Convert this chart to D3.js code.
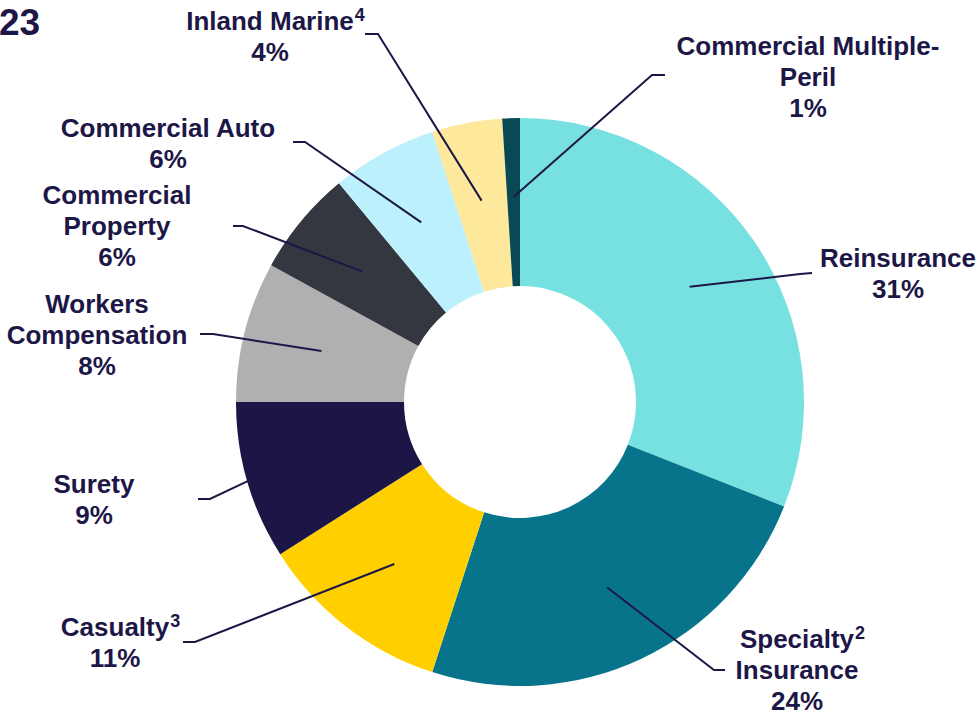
<!DOCTYPE html>
<html>
<head>
<meta charset="utf-8">
<script src="https://cdn.jsdelivr.net/npm/d3@7"></script>
<style>
  body { margin: 0; background: #fff; }
  svg { display: block; font-family: "Liberation Sans", Arial, sans-serif; font-weight: bold; }
</style>
</head>
<body>
<div id="chart"></div>
<script>
// clockwise from 12 o'clock
const categories = ['Reinsurance', 'Specialty Insurance', 'Casualty', 'Surety', 'Workers Compensation',
                    'Commercial Property', 'Commercial Auto', 'Inland Marine', 'Commercial Multiple-Peril'];
const shares = [31, 24, 11, 9, 8, 6, 6, 4, 1];
const footnotes = ['', '2', '3', '', '', '', '', '4', ''];
const labelLines = [
  ['Reinsurance'],
  ['Specialty', 'Insurance'],
  ['Casualty'],
  ['Surety'],
  ['Workers', 'Compensation'],
  ['Commercial', 'Property'],
  ['Commercial Auto'],
  ['Inland Marine'],
  ['Commercial Multiple-', 'Peril']
];
const colors = ['#77e1e1', '#08748b', '#ffcf00', '#1c1646', '#b0b0b0',
                '#343640', '#bcf0fc', '#fde89b', '#084954'];

// label placement: text centre x, first baseline y, leader radius, elbow + end of leader
const labelLayout = [
  {x: 898, y: 267, r: 205, pts: [[800, 274], [812, 273]]},
  {x: 115, y: 636, r: 205, pts: [[195, 642], [183, 642]]},
  {x: 94,  y: 493, r: 283, pts: [[210, 499], [198, 499]]},
  {x: 97,  y: 313, r: 205, pts: [[213, 334], [200, 334]]},
  {x: 117, y: 204, r: 205, pts: [[243, 226], [233, 226]]},
  {x: 168, y: 137, r: 205, pts: [[305, 142], [293, 142]]},
  {x: 270, y: 30,  r: 205, pts: [[378, 34], [365, 34]]},
  {x: 808, y: 55,  r: 205, pts: [[652, 75], [665, 75]]}
];
labelLayout.splice(1, 0, {x: 797, y: 648, r: 205, pts: [[714, 670], [725, 670]]});

const width = 979, height = 717;
const cx = 520, cy = 402;
const outerR = 284, innerR = 116;
const ink = '#1d1747';

const svg = d3.select('#chart').append('svg')
  .attr('width', width)
  .attr('height', height);

// cut-off title fragment at top left
svg.append('text')
  .attr('x', -1)
  .attr('y', 35)
  .attr('font-size', 37)
  .attr('fill', ink)
  .text('23');

const pie = d3.pie().sort(null).value(d => d);
const arcs = pie(shares);

const arc = d3.arc().innerRadius(innerR).outerRadius(outerR);

const plot = svg.append('g')
  .attr('transform', `translate(${cx},${cy})`);

plot.selectAll('path.slice')
  .data(arcs)
  .join('path')
  .attr('class', 'slice')
  .attr('d', arc)
  .attr('fill', (d, i) => colors[i]);

// leader lines
const line = d3.line();
svg.selectAll('path.leader')
  .data(arcs)
  .join('path')
  .attr('class', 'leader')
  .attr('d', (d, i) => {
    const L = labelLayout[i];
    const c = d3.arc().innerRadius(L.r).outerRadius(L.r).centroid(d);
    return line([[cx + c[0], cy + c[1]]].concat(L.pts));
  })
  .attr('fill', 'none')
  .attr('stroke', ink)
  .attr('stroke-width', 2);

// labels
const lineH = 31;
const labels = svg.selectAll('g.label')
  .data(arcs)
  .join('g')
  .attr('class', 'label');

labels.each(function(d, i) {
  const g = d3.select(this);
  const L = labelLayout[i];
  const rows = labelLines[i].concat([shares[i] + '%']);
  rows.forEach((t, j) => {
    const txt = g.append('text')
      .attr('x', L.x)
      .attr('y', L.y + j * lineH)
      .attr('text-anchor', 'middle')
      .attr('font-size', 26)
      .attr('fill', ink)
      .text(t);
    if (j === 0 && footnotes[i]) {
      const w = txt.node().getComputedTextLength();
      g.append('text')
        .attr('x', L.x + w / 2 + 1)
        .attr('y', L.y - 9)
        .attr('font-size', 18)
        .attr('fill', ink)
        .text(footnotes[i]);
    }
  });
});
</script>
</body>
</html>
